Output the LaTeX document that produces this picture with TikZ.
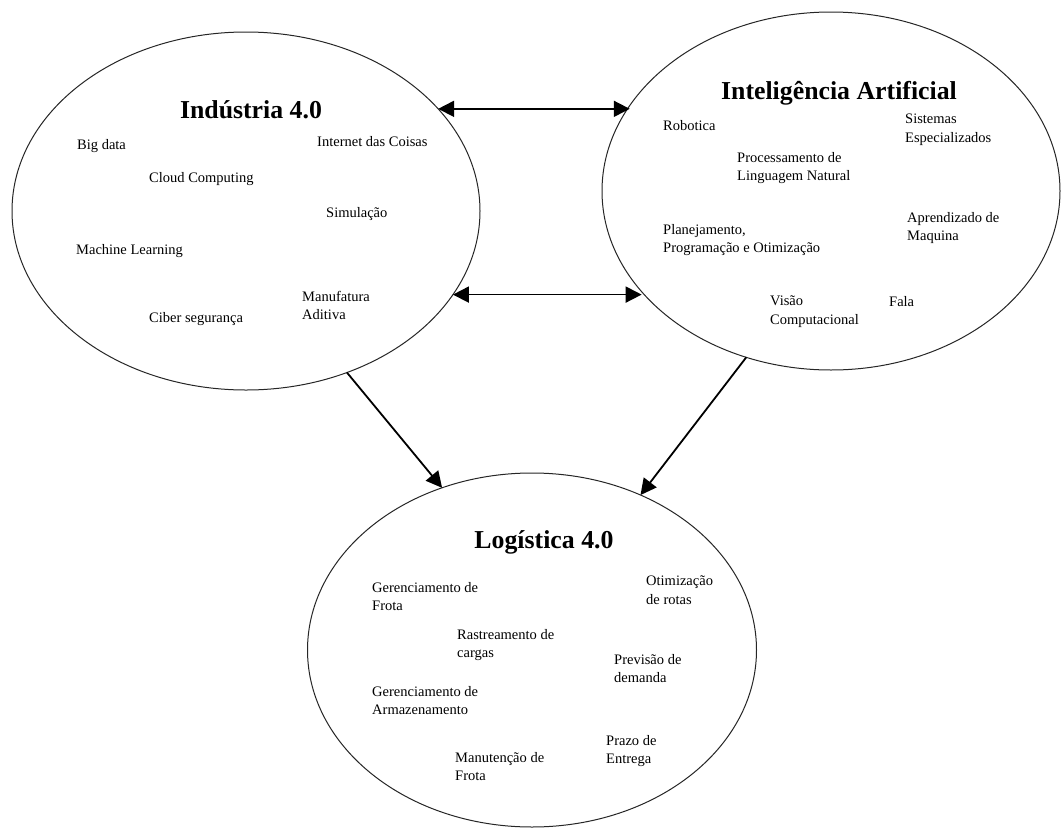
\documentclass[tikz,border=0pt]{standalone}
\usepackage{fontspec}
\setmainfont{Liberation Serif}
\usetikzlibrary{shapes.geometric,arrows.meta}
\begin{document}
\begin{tikzpicture}[x=1pt,y=-1pt,
  bubble/.style={ellipse,draw=black!85,line width=1pt,inner sep=0pt,outer sep=0pt},
  title/.style={font=\fontsize{25.8}{30}\selectfont\bfseries,inner sep=0pt,anchor=base},
  item/.style={font=\fontsize{14.5}{18.5}\selectfont,align=left,inner sep=0pt,anchor=north west},
  link/.style={line width=1.8pt,-{Triangle[length=16pt,width=16pt]}},
  dlink/.style={line width=1.8pt,{Triangle[length=16pt,width=16pt]}-{Triangle[length=16pt,width=16pt]}}]
\fill[white] (0,0) rectangle (1061,828);
\useasboundingbox (0,0) rectangle (1061,828);

% ellipses
\node[bubble,minimum width=468pt,minimum height=358pt] (ind) at (246,211) {};
\node[bubble,minimum width=458pt,minimum height=358pt] (ia) at (831,191) {};
\node[bubble,minimum width=449pt,minimum height=354pt] (log) at (532,650) {};

% titles
\node[title] (tind) at (251,118) {Indústria 4.0};
\node[title] (tia) at (839,99) {Inteligência Artificial};
\node[title] (tlog) at (544,548) {Logística 4.0};

% Industria 4.0 items
\node[item] (bd) at (77,139) {Big data};
\node[item] (cc) at (149,172) {Cloud Computing};
\node[item] (iot) at (317,136) {Internet das Coisas};
\node[item] (sim) at (326,207) {Simulação};
\node[item] (ml) at (76,244) {Machine Learning};
\node[item] (cs) at (149,312) {Ciber segurança};
\node[item] (ma) at (302,291) {Manufatura\\Aditiva};

% IA items
\node[item] (rob) at (663,120) {Robotica};
\node[item] (se) at (905,114) {Sistemas\\Especializados};
\node[item] (pln) at (737,152) {Processamento de\\Linguagem Natural};
\node[item] (ppo) at (663,224) {Planejamento,\\Programação e Otimização};
\node[item] (am) at (907,212) {Aprendizado de\\Maquina};
\node[item] (vc) at (770,296) {Visão\\Computacional};
\node[item] (fala) at (889,296) {Fala};

% Logistica items
\node[item] (gf) at (372,582) {Gerenciamento de\\Frota};
\node[item] (or) at (646,576) {Otimização\\de rotas};
\node[item] (rc) at (457,629) {Rastreamento de\\cargas};
\node[item] (pd) at (614,654) {Previsão de\\demanda};
\node[item] (ga) at (372,686) {Gerenciamento de\\Armazenamento};
\node[item] (pe) at (606,735) {Prazo de\\Entrega};
\node[item] (mf) at (455,752) {Manutenção de\\Frota};

% connectors
\draw[dlink] (ind.28.9) -- (ia.157.1 |- ind.28.9);
\draw[dlink] (ind.338.5) -- (ia.208.5 |- ind.338.5);
\draw[link] (ind.302.9) -- (log.119.7);
\draw[link] (ia.243.6) -- (log.55.6);
\end{tikzpicture}
\end{document}
